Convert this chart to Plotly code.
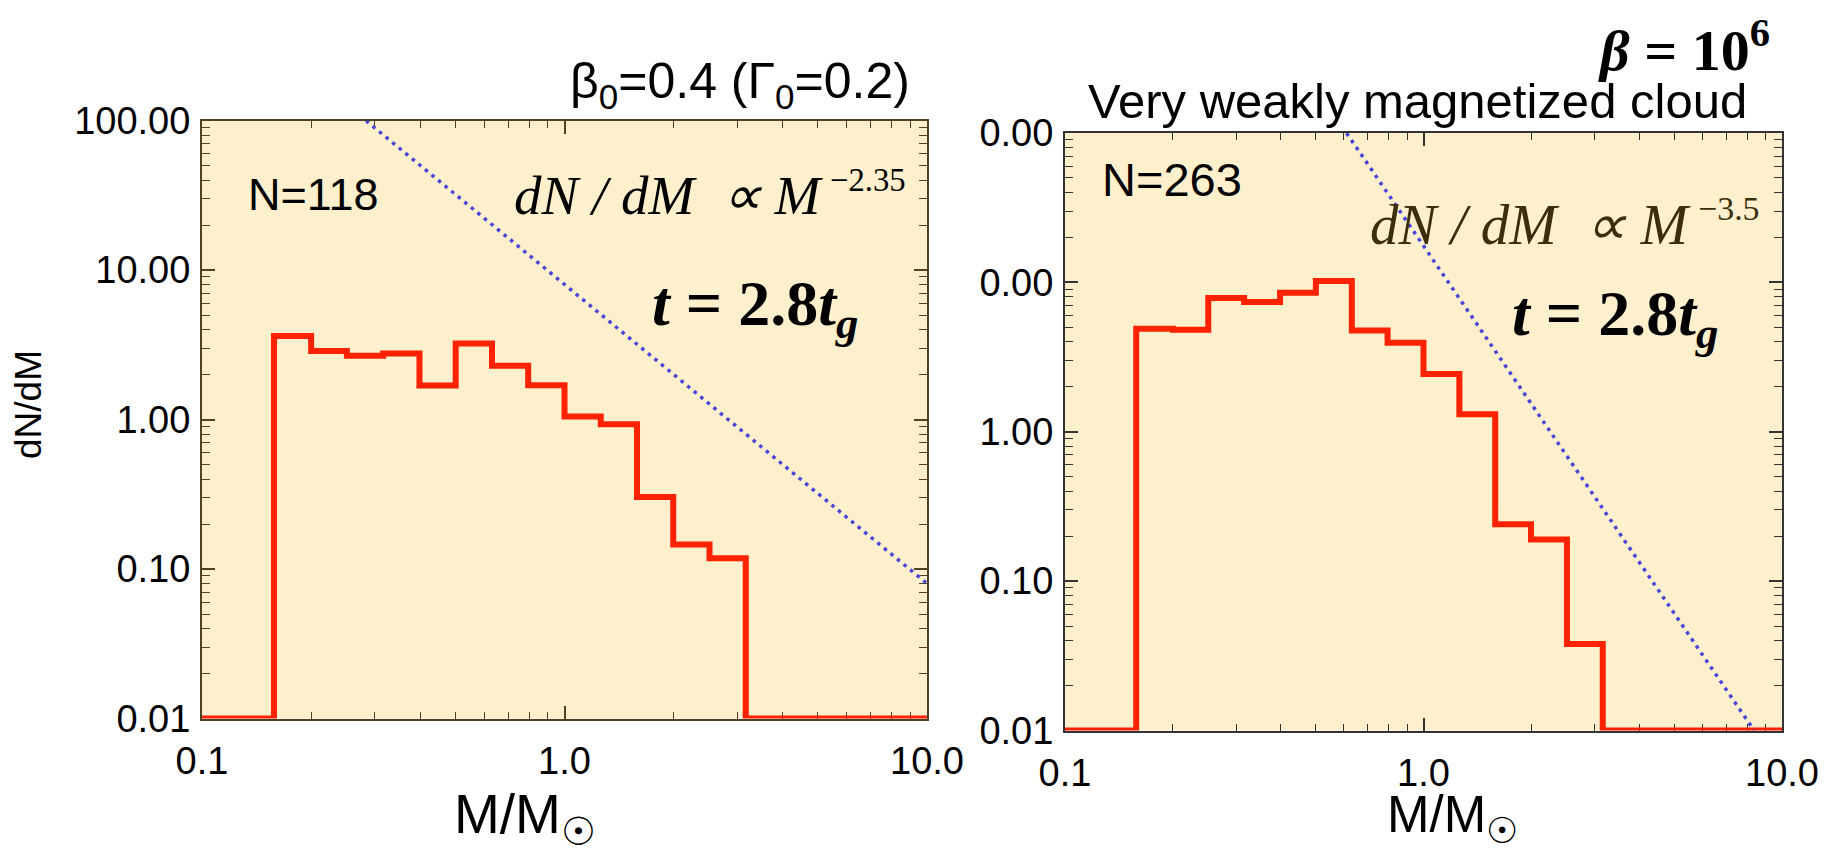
import plotly.graph_objects as go

# ---------------- data ----------------
bin_edges = [0.1, 0.158, 0.2, 0.251, 0.316, 0.398, 0.501, 0.631, 0.794, 1.0,
             1.259, 1.585, 1.995, 2.512, 3.162, 10.0]
# dN/dM per bin (value for bin starting at the same index); 0.01 = empty bin (axis floor)
left_dndm = [0.01, 3.63, 2.88, 2.67, 2.77, 1.69, 3.23, 2.29, 1.70, 1.05,
             0.93, 0.303, 0.146, 0.118, 0.01, 0.01]
right_dndm = [0.01, 4.89, 4.81, 7.85, 7.38, 8.53, 10.2, 4.76, 3.94, 2.44,
              1.31, 0.24, 0.19, 0.038, 0.01, 0.01]

# dotted power-law guide lines (end points)
left_guide_x = [0.2835, 10.0]
left_guide_y = [100.0, 0.080]
right_guide_x = [0.61, 8.36]
right_guide_y = [100.0, 0.01]

x_tickvals = [0.1, 1.0, 10.0]
x_ticktext = ["0.1", "1.0", "10.0"]
y_tickvals = [0.01, 0.1, 1.0, 10.0, 100.0]
left_y_ticktext = ["0.01", "0.10", "1.00", "10.00", "100.00"]
right_y_ticktext = ["0.01", "0.10", "1.00", "0.00", "0.00"]

minor_x = [0.2, 0.3, 0.4, 0.5, 0.6, 0.7, 0.8, 0.9, 2, 3, 4, 5, 6, 7, 8, 9]
minor_y = [0.02, 0.03, 0.04, 0.05, 0.06, 0.07, 0.08, 0.09,
           0.2, 0.3, 0.4, 0.5, 0.6, 0.7, 0.8, 0.9,
           2, 3, 4, 5, 6, 7, 8, 9, 20, 30, 40, 50, 60, 70, 80, 90]

# ---------------- layout helpers ----------------
W, H, OFF = 1823, 846, 8


def px(x):
    return (x - OFF) / W


def py(y):
    return 1 - (y - OFF) / H


RED = "#ff2200"
BLUE = "#4b46d6"
BG = "#fff0cd"
SANS = "Liberation Sans, Arial, sans-serif"
SERIF = "Liberation Serif, Times New Roman, serif"

fig = go.Figure()

fig.add_trace(go.Scatter(x=bin_edges, y=left_dndm, mode="lines", line_shape="hv",
                         line=dict(color=RED, width=6), xaxis="x", yaxis="y",
                         showlegend=False, hoverinfo="skip"))
fig.add_trace(go.Scatter(x=left_guide_x, y=left_guide_y, mode="lines",
                         line=dict(color=BLUE, width=3.5, dash="3.5px,5px"),
                         xaxis="x", yaxis="y", showlegend=False, hoverinfo="skip"))
fig.add_trace(go.Scatter(x=bin_edges, y=right_dndm, mode="lines", line_shape="hv",
                         line=dict(color=RED, width=6), xaxis="x2", yaxis="y2",
                         showlegend=False, hoverinfo="skip"))
fig.add_trace(go.Scatter(x=right_guide_x, y=right_guide_y, mode="lines",
                         line=dict(color=BLUE, width=3.5, dash="3.5px,5px"),
                         xaxis="x2", yaxis="y2", showlegend=False, hoverinfo="skip"))

TICK_SIZE = 38


def xaxis_cfg(domain, color, anchor):
    return dict(type="log", range=[-1, 1], domain=domain, anchor=anchor,
                automargin=False, layer="below traces",
                tickvals=x_tickvals, ticktext=x_ticktext,
                ticks="inside", ticklen=13, tickwidth=1.5, tickcolor=color,
                minor=dict(tickvals=minor_x, ticks="inside", ticklen=7,
                           tickwidth=1.2, tickcolor=color, showgrid=False),
                showline=True, linecolor=color, linewidth=2, mirror="allticks",
                showgrid=False, zeroline=False, ticklabelstandoff=8,
                tickfont=dict(family=SANS, size=TICK_SIZE, color="black"))


def yaxis_cfg(domain, color, anchor, ticktext):
    return dict(type="log", range=[-2, 2], domain=domain, anchor=anchor,
                automargin=False, layer="below traces",
                tickvals=y_tickvals, ticktext=ticktext,
                ticks="inside", ticklen=13, tickwidth=1.5, tickcolor=color,
                minor=dict(tickvals=minor_y, ticks="inside", ticklen=8,
                           tickwidth=1.2, tickcolor=color, showgrid=False),
                showline=True, linecolor=color, linewidth=2, mirror="allticks",
                showgrid=False, zeroline=False, ticklabelstandoff=2,
                tickfont=dict(family=SANS, size=TICK_SIZE, color="black"))


L_COL = "#4e4222"
R_COL = "#333333"

fig.update_layout(
    template="none",
    width=W, height=H, autosize=False,
    margin=dict(l=0, r=0, t=0, b=0, pad=0, autoexpand=False),
    paper_bgcolor="white", plot_bgcolor=BG,
    xaxis=xaxis_cfg([px(202), px(927)], L_COL, "y"),
    yaxis=yaxis_cfg([py(718.5), py(120.7)], L_COL, "x", left_y_ticktext),
    xaxis2=xaxis_cfg([px(1065), px(1782)], R_COL, "y2"),
    yaxis2=yaxis_cfg([py(730.5), py(133)], R_COL, "x2", right_y_ticktext),
)


def ann(text, x, y, size, family=SANS, color="black", xanchor="left",
        yanchor="middle", angle=0):
    fig.add_annotation(text=text, x=px(x), y=py(y), xref="paper", yref="paper",
                       showarrow=False, xanchor=xanchor, yanchor=yanchor,
                       textangle=angle,
                       font=dict(family=family, size=size, color=color))


# left panel texts
ann("β<sub>0</sub>=0.4 (Γ<sub>0</sub>=0.2)", 912, 84, 50, xanchor="right")
ann("N=118", 246, 194, 45)
ann("<i>dN / dM  ∝ M</i><sup> <span style='font-size:85%'>−2.35</span></sup>",
    512, 192, 55, family=SERIF)
ann("<b><i>t</i> = 2.8<i>t</i><sub><i>g</i></sub></b>", 650, 308, 64, family=SERIF)
ann("M/M<sub>☉</sub>", 525, 818, 55, xanchor="center")
ann("dN/dM", 28, 405, 37, xanchor="center", angle=-90)

# right panel texts
ann("<b><i>β</i> = 10<sup>6</sup></b>", 1772, 8, 58, family=SERIF,
    xanchor="right", yanchor="top")
ann("Very weakly magnetized cloud", 1417, 101, 49, xanchor="center")
ann("N=263", 1100, 180, 47)
ann("<i>dN / dM  ∝ M</i><sup> <span style='font-size:85%'>−3.5</span></sup>",
    1368, 220, 57, family=SERIF, color="#3a2f0c")
ann("<b><i>t</i> = 2.8<i>t</i><sub><i>g</i></sub></b>", 1510, 318, 64, family=SERIF)
ann("M/M<sub>☉</sub>", 1452, 853, 51, xanchor="center", yanchor="bottom")

fig.write_html("out.html")
